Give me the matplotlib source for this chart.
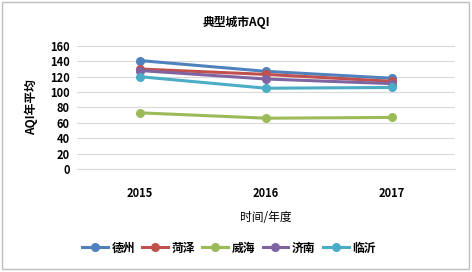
import matplotlib.pyplot as plt
from matplotlib.patches import Rectangle

plt.rcParams['font.family'] = ['Noto Sans CJK SC', 'DejaVu Sans']

years = ["2015", "2016", "2017"]
cities = ["德州", "菏泽", "威海", "济南", "临沂"]
dezhou = [141, 127, 118]
heze = [130, 123, 114]
weihai = [73, 66, 67]
jinan = [128, 117, 111]
linyi = [120, 105, 106]
series = [dezhou, heze, weihai, jinan, linyi]
colors = ["#4F81BD", "#C0504D", "#9BBB59", "#8064A2", "#4BACC6"]

fig = plt.figure(figsize=(4.72, 2.72), dpi=100)
ax = fig.add_axes([0.163, 0.379, 0.801, 0.452])

x = range(len(years))
for name, vals, c in zip(cities, series, colors):
    ax.plot(x, vals, color=c, lw=2.2, marker='o', markersize=5.5, label=name)

ax.set_xlim(-0.5, 2.5)
ax.set_ylim(0, 160)
ax.set_yticks(range(0, 161, 20))
ax.set_xticks(list(x))
ax.set_xticklabels(years, fontweight='bold', fontsize=8)
for lab in ax.get_yticklabels():
    lab.set_fontweight('bold')
    lab.set_fontsize(8)
ax.tick_params(length=0, pad=5)
ax.tick_params(axis='x', pad=13)
ax.grid(axis='y', color='#D9D9D9', lw=0.8)
ax.set_axisbelow(True)
for s in ['top', 'right', 'left']:
    ax.spines[s].set_visible(False)
ax.spines['bottom'].set_color('#D9D9D9')

ax.set_ylabel("AQI年平均", fontweight='bold', fontsize=8.5, labelpad=9)
ax.set_xlabel("时间/年度", fontsize=8.5, labelpad=8)
fig.text(0.5, 0.919, "典型城市AQI", ha='center', va='center', fontweight='bold', fontsize=8.5)

fig.legend(loc='center', bbox_to_anchor=(0.485, 0.088), ncol=5, frameon=False,
           prop={'weight': 'bold', 'size': 8.5}, handlelength=2.2, columnspacing=0.6,
           handletextpad=0.3)

fig.patches.append(Rectangle((0.004, 0.01), 0.99, 0.982, transform=fig.transFigure,
                             fill=False, edgecolor='#BFBFBF', lw=1))

fig.savefig("out.png", dpi=100)
